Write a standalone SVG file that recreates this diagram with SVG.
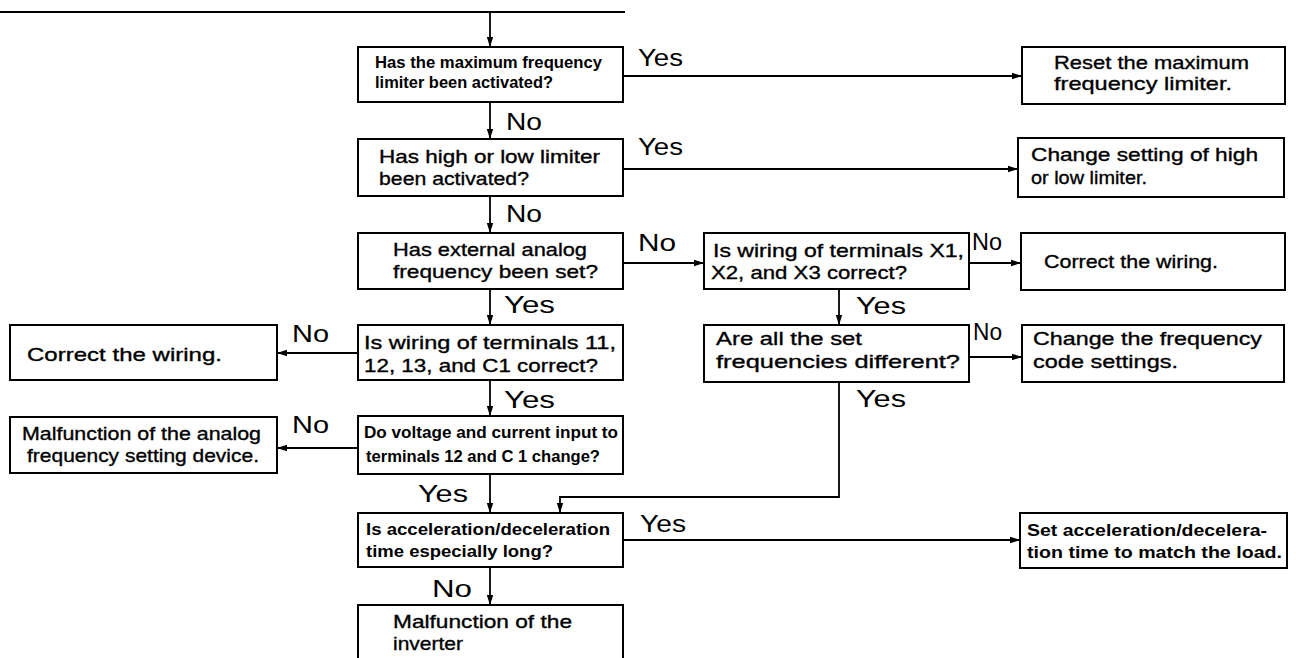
<svg xmlns="http://www.w3.org/2000/svg" width="1296" height="658" viewBox="0 0 1296 658">
<style>
.box{fill:#fff;stroke:#000;stroke-width:2}
.t{font-family:"Liberation Sans",Arial,sans-serif;font-size:19px;fill:#000;stroke:#000;stroke-width:0.35}
.tb{font-family:"Liberation Sans",Arial,sans-serif;font-size:17px;font-weight:bold;fill:#000}
.lb{font-family:"Liberation Sans",Arial,sans-serif;font-size:23px;fill:#000}
.c{fill:none;stroke:#000;stroke-width:1.8}
</style>
<defs>
<marker id="ah" markerWidth="10" markerHeight="8" refX="9" refY="4" orient="auto" markerUnits="userSpaceOnUse">
<path d="M0,0.8 L10,4 L0,7.2 Z" fill="#000"/>
</marker>
</defs>
<rect width="1296" height="658" fill="#fff"/>
<g id="connectors">
<line class="c" x1="0" y1="12" x2="625" y2="12"/>
<line class="c" x1="490" y1="12" x2="490" y2="46" marker-end="url(#ah)"/>
<line class="c" x1="490" y1="102" x2="490" y2="138" marker-end="url(#ah)"/>
<line class="c" x1="490" y1="196" x2="490" y2="232" marker-end="url(#ah)"/>
<line class="c" x1="490" y1="289" x2="490" y2="324" marker-end="url(#ah)"/>
<line class="c" x1="490" y1="380" x2="490" y2="415" marker-end="url(#ah)"/>
<line class="c" x1="490" y1="474" x2="490" y2="512" marker-end="url(#ah)"/>
<line class="c" x1="490" y1="567" x2="490" y2="604" marker-end="url(#ah)"/>
<line class="c" x1="623" y1="76" x2="1021" y2="76" marker-end="url(#ah)"/>
<line class="c" x1="623" y1="169" x2="1017" y2="169" marker-end="url(#ah)"/>
<line class="c" x1="623" y1="263" x2="703" y2="263" marker-end="url(#ah)"/>
<line class="c" x1="969" y1="263" x2="1020" y2="263" marker-end="url(#ah)"/>
<line class="c" x1="839" y1="289" x2="839" y2="324" marker-end="url(#ah)"/>
<line class="c" x1="969" y1="357" x2="1021" y2="357" marker-end="url(#ah)"/>
<polyline class="c" points="839,382 839,497 560,497 560,512" marker-end="url(#ah)"/>
<line class="c" x1="358" y1="353" x2="278" y2="353" marker-end="url(#ah)"/>
<line class="c" x1="358" y1="448" x2="278" y2="448" marker-end="url(#ah)"/>
<line class="c" x1="623" y1="540" x2="1019" y2="540" marker-end="url(#ah)"/>
</g>
<g id="labels">
<text class="lb" x="638" y="66" textLength="45" lengthAdjust="spacingAndGlyphs">Yes</text>
<text class="lb" x="506" y="130" textLength="36" lengthAdjust="spacingAndGlyphs">No</text>
<text class="lb" x="638" y="155" textLength="45" lengthAdjust="spacingAndGlyphs">Yes</text>
<text class="lb" x="506" y="222" textLength="36" lengthAdjust="spacingAndGlyphs">No</text>
<text class="lb" x="638" y="251" textLength="38" lengthAdjust="spacingAndGlyphs">No</text>
<text class="lb" x="972" y="250" textLength="30" lengthAdjust="spacingAndGlyphs">No</text>
<text class="lb" x="856" y="314" textLength="50" lengthAdjust="spacingAndGlyphs">Yes</text>
<text class="lb" x="504" y="313" textLength="51" lengthAdjust="spacingAndGlyphs">Yes</text>
<text class="lb" x="292" y="342" textLength="37" lengthAdjust="spacingAndGlyphs">No</text>
<text class="lb" x="973" y="340" textLength="29" lengthAdjust="spacingAndGlyphs">No</text>
<text class="lb" x="504" y="408" textLength="51" lengthAdjust="spacingAndGlyphs">Yes</text>
<text class="lb" x="856" y="407" textLength="50" lengthAdjust="spacingAndGlyphs">Yes</text>
<text class="lb" x="292" y="433" textLength="37" lengthAdjust="spacingAndGlyphs">No</text>
<text class="lb" x="418" y="502" textLength="50" lengthAdjust="spacingAndGlyphs">Yes</text>
<text class="lb" x="640" y="532" textLength="46" lengthAdjust="spacingAndGlyphs">Yes</text>
<text class="lb" x="432" y="597" textLength="40" lengthAdjust="spacingAndGlyphs">No</text>
</g>
<g id="b1"><rect class="box" x="358" y="47" width="265" height="55"/>
<text class="tb" x="375" y="68" textLength="227" lengthAdjust="spacingAndGlyphs">Has the maximum frequency</text>
<text class="tb" x="375" y="88" textLength="178" lengthAdjust="spacingAndGlyphs">limiter been activated?</text></g>
<g id="r1"><rect class="box" x="1022" y="47" width="263" height="57"/>
<text class="t" x="1054" y="69" textLength="195" lengthAdjust="spacingAndGlyphs">Reset the maximum</text>
<text class="t" x="1054" y="90" textLength="178" lengthAdjust="spacingAndGlyphs">frequency limiter.</text></g>
<g id="b2"><rect class="box" x="358" y="139" width="265" height="57"/>
<text class="t" x="379" y="163" textLength="221" lengthAdjust="spacingAndGlyphs">Has high or low limiter</text>
<text class="t" x="379" y="185" textLength="150" lengthAdjust="spacingAndGlyphs">been activated?</text></g>
<g id="r2"><rect class="box" x="1018" y="138" width="266" height="59"/>
<text class="t" x="1031" y="161" textLength="227" lengthAdjust="spacingAndGlyphs">Change setting of high</text>
<text class="t" x="1031" y="184" textLength="116" lengthAdjust="spacingAndGlyphs">or low limiter.</text></g>
<g id="b3"><rect class="box" x="358" y="233" width="265" height="56"/>
<text class="t" x="393" y="256" textLength="194" lengthAdjust="spacingAndGlyphs">Has external analog</text>
<text class="t" x="393" y="278" textLength="205" lengthAdjust="spacingAndGlyphs">frequency been set?</text></g>
<g id="b4"><rect class="box" x="704" y="233" width="265" height="56"/>
<text class="t" x="713" y="257" textLength="251" lengthAdjust="spacingAndGlyphs">Is wiring of terminals X1,</text>
<text class="t" x="711" y="279" textLength="196" lengthAdjust="spacingAndGlyphs">X2, and X3 correct?</text></g>
<g id="r4"><rect class="box" x="1021" y="233" width="264" height="57"/>
<text class="t" x="1044" y="268" textLength="174" lengthAdjust="spacingAndGlyphs">Correct the wiring.</text></g>
<g id="b6"><rect class="box" x="358" y="325" width="265" height="55"/>
<text class="t" x="364" y="349" textLength="252" lengthAdjust="spacingAndGlyphs">Is wiring of terminals 11,</text>
<text class="t" x="364" y="372" textLength="234" lengthAdjust="spacingAndGlyphs">12, 13, and C1 correct?</text></g>
<g id="l6"><rect class="box" x="10" y="325" width="267" height="55"/>
<text class="t" x="27" y="361" textLength="195" lengthAdjust="spacingAndGlyphs">Correct the wiring.</text></g>
<g id="b5"><rect class="box" x="704" y="325" width="265" height="57"/>
<text class="t" x="716" y="345" textLength="146" lengthAdjust="spacingAndGlyphs">Are all the set</text>
<text class="t" x="716" y="368" textLength="244" lengthAdjust="spacingAndGlyphs">frequencies different?</text></g>
<g id="r5"><rect class="box" x="1022" y="325" width="262" height="57"/>
<text class="t" x="1033" y="345" textLength="229" lengthAdjust="spacingAndGlyphs">Change the frequency</text>
<text class="t" x="1033" y="368" textLength="145" lengthAdjust="spacingAndGlyphs">code settings.</text></g>
<g id="b7"><rect class="box" x="358" y="416" width="265" height="58"/>
<text class="tb" x="364" y="438" textLength="254" lengthAdjust="spacingAndGlyphs">Do voltage and current input to</text>
<text class="tb" x="366" y="462" textLength="234" lengthAdjust="spacingAndGlyphs">terminals 12 and C 1 change?</text></g>
<g id="l7"><rect class="box" x="10" y="417" width="267" height="56"/>
<text class="t" x="22" y="440" textLength="239" lengthAdjust="spacingAndGlyphs">Malfunction of the analog</text>
<text class="t" x="27" y="462" textLength="232" lengthAdjust="spacingAndGlyphs">frequency setting device.</text></g>
<g id="b8"><rect class="box" x="358" y="513" width="265" height="54"/>
<text class="tb" x="366" y="535" textLength="244" lengthAdjust="spacingAndGlyphs">Is acceleration/deceleration</text>
<text class="tb" x="366" y="557" textLength="187" lengthAdjust="spacingAndGlyphs">time especially long?</text></g>
<g id="r8"><rect class="box" x="1020" y="513" width="267" height="55"/>
<text class="tb" x="1027" y="536" textLength="240" lengthAdjust="spacingAndGlyphs">Set acceleration/decelera-</text>
<text class="tb" x="1027" y="558" textLength="255" lengthAdjust="spacingAndGlyphs">tion time to match the load.</text></g>
<g id="b9"><rect class="box" x="358" y="605" width="265" height="65"/>
<text class="t" x="393" y="628" textLength="179" lengthAdjust="spacingAndGlyphs">Malfunction of the</text>
<text class="t" x="393" y="650" textLength="70" lengthAdjust="spacingAndGlyphs">inverter</text></g>
</svg>
